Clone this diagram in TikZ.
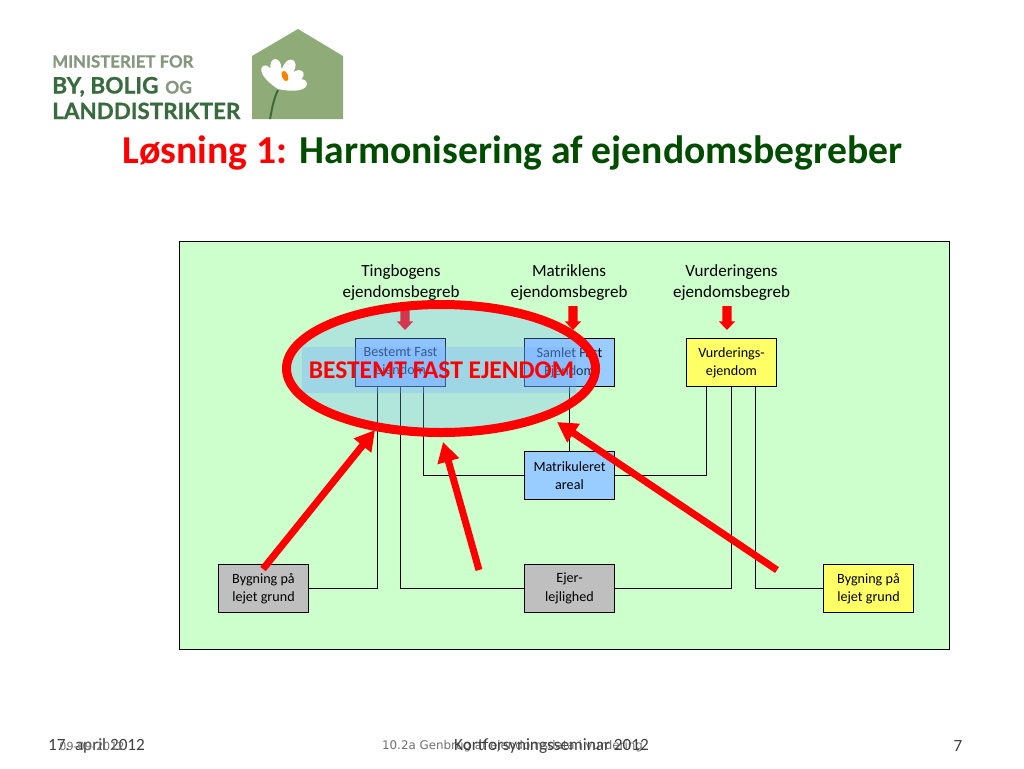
\documentclass[tikz,border=0pt]{standalone}
\usepackage{fontspec}
\setmainfont{Carlito}
\newfontfamily\logofont[BoldFeatures={FakeBold=0.8}]{Lato}
\newfontfamily\smallfoot{DejaVu Sans}
\usetikzlibrary{arrows.meta,calc}
\definecolor{panel}{HTML}{CCFFCC}
\definecolor{bluebox}{HTML}{99CCFF}
\definecolor{yellowbox}{HTML}{FFFF66}
\definecolor{greybox}{HTML}{BFBFBF}
\definecolor{titlegreen}{HTML}{004D00}
\definecolor{hazefill}{RGB}{117,178,255}
\definecolor{logogreen}{HTML}{3A6B3F}
\definecolor{logogrey}{HTML}{86977F}
\definecolor{logohouse}{HTML}{8FAB78}
\definecolor{footgrey}{HTML}{404040}
\tikzset{
  x=0.75pt,y=-0.75pt,
  box/.style={draw=black,line width=0.8pt,minimum width=67.5pt,minimum height=36pt,inner sep=0pt,align=center,
     font=\fontsize{10.6pt}{12.75pt}\selectfont,text=black},
  bluenode/.style={box,fill=bluebox},
  yellownode/.style={box,fill=yellowbox},
  greynode/.style={box,fill=greybox},
  headlabel/.style={align=center,inner sep=0pt,font=\fontsize{12.8pt}{15.75pt}\selectfont},
  link/.style={draw=black,line width=0.8pt},
  bigarrow/.style={draw=red,line width=5.25pt,-{Triangle[length=15pt,width=16pt]}},
  smallarrow/.style={draw=red,line width=7pt,-{Triangle[length=6.5pt,width=12pt]}},
  foot/.style={inner sep=0pt,text=footgrey,font=\fontsize{12.9pt}{15pt}\selectfont},
  logotext/.style={inner sep=0pt,anchor=base west},
}
\begin{document}
\begin{tikzpicture}
\useasboundingbox (0,0) rectangle (1024,768);
\fill[white] (0,0) rectangle (1024,768);
% logo
\fill[logohouse] (252,56) -- (298,29) -- (343,56) -- (343,119) -- (252,119) -- cycle;
\draw[logogreen,line width=1.5pt] (278,90) .. controls (274,98) and (272,108) .. (270,119);
\coordinate (fb) at (278,89);
\foreach \tx/\ty in {263/66,275/59,293/60,303/72,307/83}{
  \fill[white] (fb) .. controls ($(fb)!0.6!24:(\tx,\ty)$) and ($(fb)!1!14:(\tx,\ty)$) .. (\tx,\ty)
     .. controls ($(fb)!1!-14:(\tx,\ty)$) and ($(fb)!0.6!-24:(\tx,\ty)$) .. (fb) -- cycle;
}
\fill[white] (284,77) circle [radius=9];
\fill[orange,rotate around={-70:(285,76)}] (285,76) ellipse [x radius=5.5,y radius=3];
\node[logotext,text=logogrey,font=\logofont\bfseries\fontsize{12.6pt}{13pt}\selectfont] (lg1) at (52,67.5) {MINISTERIET FOR};
\node[logotext,text=logogreen,font=\logofont\bfseries\fontsize{17pt}{18pt}\selectfont] (lg2) at (52,93.5) {BY, BOLIG};
\node[logotext,text=logogrey,font=\logofont\bfseries\fontsize{13pt}{13pt}\selectfont] (lg3) at (165,93.5) {OG};
\node[logotext,text=logogreen,font=\logofont\bfseries\fontsize{16.8pt}{18pt}\selectfont] (lg4) at (52,119) {LANDDISTRIKTER};
% title
\node[inner sep=0pt,anchor=base,font=\bfseries\fontsize{29.7pt}{32pt}\selectfont] (title) at (512.5,163)
  {\textcolor{red}{Løsning 1:} \textcolor{titlegreen}{Harmonisering af ejendomsbegreber}};
% panel
\node[draw=black,fill=panel,line width=0.8pt,minimum width=577.5pt,minimum height=306pt,inner sep=0pt] (panel) at (564.5,445.5) {};
% labels
\node[headlabel] (h1) at (401,282.5) {Tingbogens\\ejendomsbegreb};
\node[headlabel] (h2) at (569,282.5) {Matriklens\\ejendomsbegreb};
\node[headlabel] (h3) at (731.5,282.5) {Vurderingens\\ejendomsbegreb};
% boxes
\node[bluenode] (bf) at (400.5,362.5) {Bestemt Fast\\[1pt]ejendom};
\node[bluenode] (sf) at (569.5,362.5) {Samlet Fast\\[1pt]Ejendom};
\node[yellownode] (ve) at (731.5,362.5) {Vurderings-\\[1pt]ejendom};
\node[bluenode] (ma) at (569.5,475.5) {Matrikuleret\\[1pt]areal};
\node[greynode] (bl) at (263.5,588.5) {Bygning på\\[1pt]lejet grund};
\node[greynode] (ej) at (569.5,588.5) {Ejer-\\[1pt]lejlighed};
\node[yellownode] (br) at (868.5,588.5) {Bygning på\\[1pt]lejet grund};
% connectors
\draw[link] ([xshift=-17.25pt]bf.south) |- (bl.east);
\draw[link] (bf.south) |- (ej.west);
\draw[link] ([xshift=17.25pt]bf.south) |- (ma.west);
\draw[link] (sf.south) -- (ma.north);
\draw[link] ([xshift=-18.75pt]ve.south) |- (ma.east);
\draw[link] (ve.south) |- (ej.east);
\draw[link] ([xshift=18pt]ve.south) |- (br.west);
% short arrows
\coordinate (a1s) at (405,308);
\draw[smallarrow] (a1s) -- ([xshift=3.4pt,yshift=6pt]bf.north);
% haze
\fill[hazefill,fill opacity=0.3] (441,368.5) ellipse [x radius=154.5,y radius=64];
\fill[hazefill,fill opacity=0.3] (302,347) rectangle (576,393);
\draw[red,line width=6.75pt] (441,368.5) ellipse [x radius=154.5,y radius=64];
\node[inner sep=0pt,text=red,font=\bfseries\fontsize{19.1pt}{21pt}\selectfont] (bfe) at (441.5,370.5) {BESTEMT FAST EJENDOM};
\coordinate (a2s) at (573,306);
\draw[smallarrow] (a2s) -- ([xshift=2.6pt,yshift=6pt]sf.north);
\coordinate (a3s) at (727,306);
\draw[smallarrow] (a3s) -- ([xshift=-3.4pt,yshift=6pt]ve.north);
% long arrows
\coordinate (b1s) at (263,569); \coordinate (b1e) at (375,430);
\coordinate (b2s) at (479,570); \coordinate (b2e) at (443,442);
\coordinate (b3s) at (777,570); \coordinate (b3e) at (557,422);
\draw[bigarrow] (b1s) -- (b1e);
\draw[bigarrow] (b2s) -- (b2e);
\draw[bigarrow] (b3s) -- (b3e);
% footer
\node[foot] (f1) at (96.5,746) {17. april 2012};
\node[inner sep=0pt,text=footgrey!75,font=\smallfoot\fontsize{8.4pt}{10pt}\selectfont] (f2) at (92,746) {09-09-2012};
\node[inner sep=0pt,text=footgrey!75,font=\smallfoot\fontsize{8.9pt}{10pt}\selectfont] (f3) at (512.5,746) {10.2a Genbrug af ejendomsdata i vurdering};
\node[foot] (f4) at (551.5,746) {Kortforsyningsseminar 2012};
\node[foot] (f5) at (958,746) {7};
\end{tikzpicture}
\end{document}
